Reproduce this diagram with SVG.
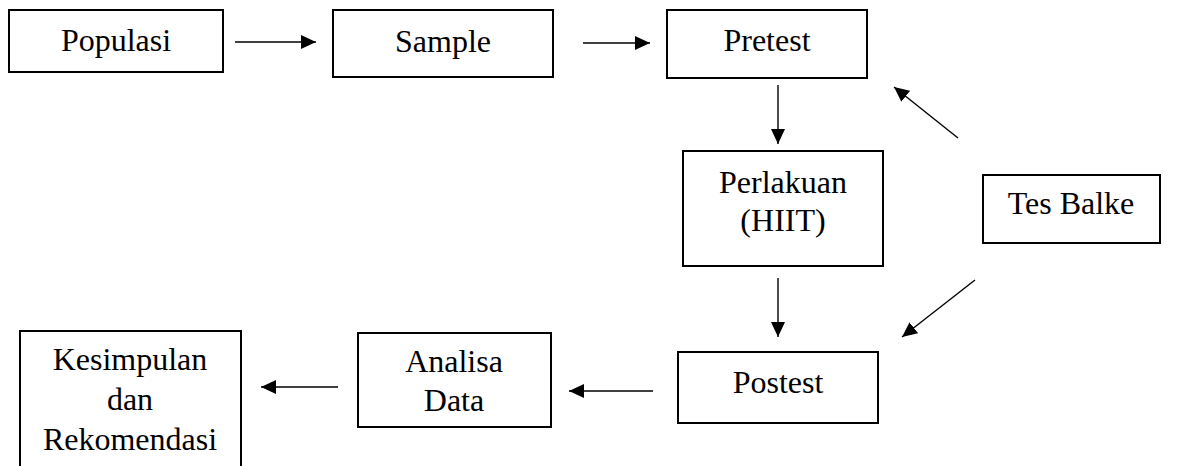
<svg xmlns="http://www.w3.org/2000/svg" width="1187" height="466" viewBox="0 0 1187 466">
<style>
.box{fill:#fff;stroke:#000;stroke-width:2}
.t{font-family:"Liberation Serif","Times New Roman",serif;font-size:32px;fill:#000;text-anchor:middle}
.c{stroke:#000;stroke-width:1.4;fill:none;marker-end:url(#ah)}
</style>
<defs>
<marker id="ah" viewBox="0 0 15 14" refX="15" refY="7" markerWidth="15" markerHeight="14" markerUnits="userSpaceOnUse" orient="auto">
<path d="M0,0 L15,7 L0,14 z" fill="#000"/>
</marker>
</defs>
<rect width="1187" height="466" fill="#fff"/>
<g id="connectors">
<line class="c" x1="235" y1="42" x2="316" y2="42"/>
<line class="c" x1="583" y1="43" x2="650" y2="43"/>
<line class="c" x1="778" y1="85" x2="778" y2="144"/>
<line class="c" x1="958" y1="138" x2="894" y2="87"/>
<line class="c" x1="778" y1="278" x2="778" y2="337"/>
<line class="c" x1="975" y1="280" x2="902" y2="337"/>
<line class="c" x1="653" y1="391" x2="569" y2="391"/>
<line class="c" x1="338" y1="387" x2="261" y2="387"/>
</g>
<g id="populasi"><rect class="box" x="9" y="10" width="214" height="62"/><text class="t" x="116" y="51">Populasi</text></g>
<g id="sample"><rect class="box" x="333" y="10" width="220" height="67"/><text class="t" x="443" y="52">Sample</text></g>
<g id="pretest"><rect class="box" x="667" y="10" width="200" height="68"/><text class="t" x="767" y="51">Pretest</text></g>
<g id="perlakuan"><rect class="box" x="683" y="151" width="200" height="115"/><text class="t" x="783" y="193">Perlakuan</text><text class="t" x="783" y="231">(HIIT)</text></g>
<g id="tesbalke"><rect class="box" x="983" y="175" width="177" height="68"/><text class="t" x="1071" y="214">Tes Balke</text></g>
<g id="postest"><rect class="box" x="678" y="352" width="200" height="71"/><text class="t" x="778" y="393">Postest</text></g>
<g id="analisa"><rect class="box" x="358" y="333" width="193" height="94"/><text class="t" x="454" y="372">Analisa</text><text class="t" x="454" y="411">Data</text></g>
<g id="kesimpulan"><rect class="box" x="20" y="331" width="221" height="140"/><text class="t" x="130" y="370">Kesimpulan</text><text class="t" x="130" y="410">dan</text><text class="t" x="130" y="450">Rekomendasi</text></g>
</svg>
